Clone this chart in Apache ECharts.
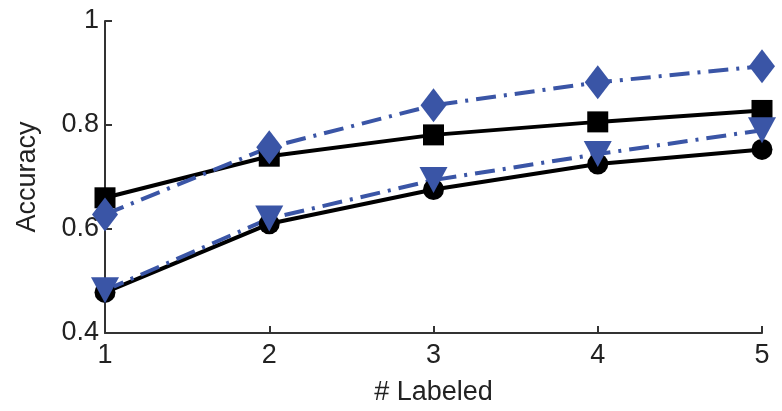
<!DOCTYPE html>
<html>
<head>
<meta charset="utf-8">
<script src="https://cdn.jsdelivr.net/npm/echarts@6/dist/echarts.min.js"></script>
<style>
  html, body { margin: 0; padding: 0; background: #fff; }
  #chart { width: 782px; height: 411px; }
</style>
</head>
<body>
<div id="chart"></div>
<script>
// # labeled on x, accuracy on y
var labeled = [1, 2, 3, 4, 5]
var squareVals = [0.660, 0.740, 0.781, 0.806, 0.828]
var circleVals = [0.478, 0.610, 0.676, 0.725, 0.753]
var diamondVals = [0.628, 0.757, 0.838, 0.882, 0.913]
var triangleVals = [0.482, 0.620, 0.694, 0.744, 0.790]

var blue = '#3a55a6'
var dashDot = [20, 8, 3, 8]

function pts(vals) {
  return labeled.map(function (x, i) { return [x, vals[i]] })
}

var myChart = echarts.init(document.getElementById('chart'))
var option = {
  animation: false,
  grid: {
    left: 105,
    right: 20,
    top: 21,
    bottom: 73
  },
  xAxis: {
    type: 'value',
    min: 1,
    max: 5,
    interval: 1,
    name: '# Labeled',
    nameLocation: 'middle',
    nameGap: 46,
    nameTextStyle: { fontFamily: 'Liberation Sans', fontSize: 27, color: '#222' },
    axisLine: { lineStyle: { color: '#333', width: 2 } },
    axisTick: { inside: true, length: 7, lineStyle: { color: '#333', width: 2 } },
    axisLabel: { fontFamily: 'Liberation Sans', fontSize: 27, color: '#222', margin: 9 },
    splitLine: { show: false }
  },
  yAxis: {
    type: 'value',
    min: 0.4,
    max: 1,
    interval: 0.2,
    name: 'Accuracy',
    nameLocation: 'middle',
    nameGap: 64,
    nameTextStyle: { fontFamily: 'Liberation Sans', fontSize: 27, color: '#222' },
    axisLine: { show: true, lineStyle: { color: '#333', width: 2 } },
    axisTick: { show: true, inside: true, length: 7, lineStyle: { color: '#333', width: 2 } },
    axisLabel: { fontFamily: 'Liberation Sans', fontSize: 27, color: '#222', margin: 6 },
    splitLine: { show: false }
  },
  series: [
    {
      name: 'square',
      type: 'line',
      data: pts(squareVals),
      symbol: 'rect',
      symbolSize: 21,
      lineStyle: { color: '#000', width: 4 },
      itemStyle: { color: '#000' }
    },
    {
      name: 'circle',
      type: 'line',
      data: pts(circleVals),
      symbol: 'circle',
      symbolSize: 21,
      lineStyle: { color: '#000', width: 4 },
      itemStyle: { color: '#000' }
    },
    {
      name: 'diamond',
      type: 'line',
      data: pts(diamondVals),
      symbol: 'diamond',
      symbolSize: [26, 34],
      lineStyle: { color: blue, width: 4, type: dashDot },
      itemStyle: { color: blue }
    },
    {
      name: 'triangle',
      type: 'line',
      data: pts(triangleVals),
      symbol: 'triangle',
      symbolRotate: 180,
      symbolSize: [28, 26],
      lineStyle: { color: blue, width: 4, type: dashDot },
      itemStyle: { color: blue }
    }
  ]
}
option && myChart.setOption(option)
</script>
</body>
</html>
